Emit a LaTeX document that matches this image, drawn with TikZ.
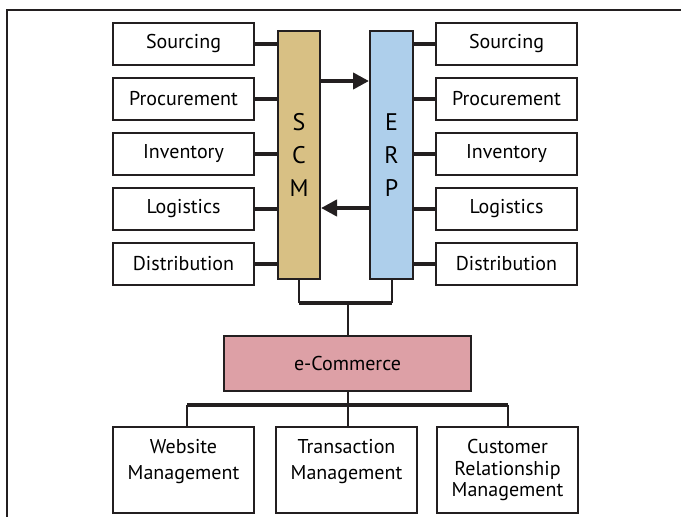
\documentclass[tikz,border=0pt]{standalone}
\usepackage{fontspec}
\setmainfont{PT Sans}
\usetikzlibrary{arrows.meta}
\definecolor{SCMtan}{HTML}{D8C084}
\definecolor{ERPblue}{HTML}{AECFEB}
\definecolor{ECpink}{HTML}{DDA0A6}
\definecolor{LineDark}{HTML}{231F20}

\begin{document}
\begin{tikzpicture}[x=0.75pt, y=-0.75pt,
   sidebox/.style={draw=LineDark, line width=1.5pt, fill=white,
      minimum width=105.75pt, minimum height=31.5pt, inner sep=0pt,
      font=\fontsize{15}{18}\selectfont},
   bar/.style={draw=LineDark, line width=1.5pt, minimum width=31.5pt,
      minimum height=186pt, inner sep=0pt, align=center,
      font=\fontsize{18}{24.75}\selectfont},
   lowbox/.style={draw=LineDark, line width=1.5pt, fill=white,
      minimum width=105.75pt, minimum height=64.5pt, inner sep=0pt},
   boxtext/.style={align=center, font=\fontsize{15}{#1}\selectfont},
   link/.style={draw=LineDark, line width=3pt},
   wire/.style={draw=LineDark, line width=1.5pt},
   bus/.style={draw=LineDark, line width=2.4pt},
   flow/.style={draw=LineDark, line width=3pt,
      -{Triangle[length=12pt,width=12pt]}}]
   \useasboundingbox (0,0) rectangle (681,517);
   % Frame
   \draw[wire] (681,10) -- (7,10) -- (7,517);
   % Bars
   \node[bar, fill=SCMtan] (scm) at (299,155) {S\\C\\M};
   \node[bar, fill=ERPblue, minimum width=32.25pt] (erp) at (391.5,155) {E\\R\\P};
   % Functions on both sides
   \foreach \name/\txt/\y in {src/Sourcing/44, proc/Procurement/99,
         inv/Inventory/154, logi/Logistics/209, dist/Distribution/264}{
      \node[sidebox] (l\name) at (183.5,\y) {\txt};
      \node[sidebox] (r\name) at (506.5,\y) {\txt};
      \draw[link] (l\name.east) -- (scm.west |- l\name.east);
      \draw[link] (r\name.west) -- (erp.east |- r\name.west);
   }
   % Flows between SCM and ERP
   \coordinate (toerp) at (345,81);
   \coordinate (toscm) at (345,208);
   \draw[flow] (scm.east |- toerp) -- (erp.west |- toerp);
   \draw[flow] (erp.west |- toscm) -- (scm.east |- toscm);
   % e-Commerce
   \node[draw=LineDark, line width=1.5pt, fill=ECpink, minimum width=185.25pt,
      minimum height=41.25pt, inner sep=0pt, font=\fontsize{15}{18}\selectfont]
      (ecom) at (347.5,363.5) {e-Commerce};
   \coordinate (topbus) at (347.5,303);
   \draw[wire] (scm.south) -- (scm.south |- topbus);
   \draw[wire] (erp.south) -- (erp.south |- topbus);
   \draw[bus] (scm.south |- topbus) -- (erp.south |- topbus);
   \draw[wire] (topbus) -- (ecom.north);
   % Lower row
   \node[lowbox, label={[boxtext=19.5, yshift=6.5pt]center:{Website\\Management}}]
      (web) at (183.5,470) {};
   \node[lowbox, label={[boxtext=19.5, yshift=6.5pt]center:{Transaction\\Management}}]
      (trans) at (346.5,470) {};
   \node[lowbox, label={[boxtext=16]center:{Customer\\Relationship\\Management}}]
      (crm) at (507.5,470) {};
   \coordinate (lowbus) at (347.5,405);
   \coordinate (webdrop) at (187,405);
   \draw[wire] (ecom.south) -- (lowbus);
   \draw[bus] (webdrop) -- (crm.north |- lowbus);
   \draw[wire] (webdrop) -- (webdrop |- web.north);
   \draw[wire] (lowbus) -- (lowbus |- trans.north);
   \draw[wire] (crm.north |- lowbus) -- (crm.north);
\end{tikzpicture}
\end{document}
